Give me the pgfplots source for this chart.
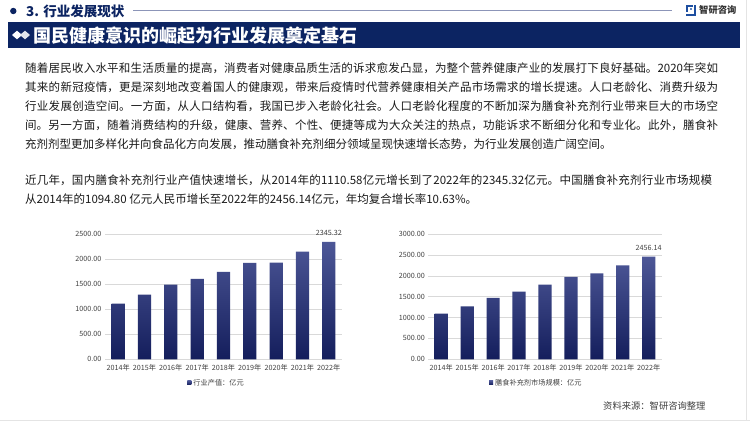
\documentclass[border=0pt]{standalone}
\usepackage{fontspec}
\setmainfont{Noto Sans CJK SC}
\usepackage{pgfplots}
\pgfplotsset{compat=1.18}
\definecolor{navy}{HTML}{0C2462}
\definecolor{bartop}{HTML}{4D5797}
\definecolor{barbot}{HTML}{141E5C}
\definecolor{ticktxt}{HTML}{404040}
\definecolor{bodytxt}{HTML}{1A1A1A}
\definecolor{gridc}{HTML}{D9D9D9}
\definecolor{hline}{HTML}{8C95B8}
\definecolor{logoblue}{HTML}{1E4FA0}
\definecolor{frame}{HTML}{E4E4E4}
\XeTeXlinebreaklocale "zh"
\XeTeXlinebreakskip=0pt plus 1pt minus 0.3pt

\pgfplotsset{
  barax/.style={
    scale only axis, anchor=south west, clip=false,
    enlargelimits=false,
    xmin=-0.5, xmax=8.5, xtick={0,...,8},
    xticklabels={2014年,2015年,2016年,2017年,2018年,2019年,2020年,2021年,2022年},
    ymin=0,
    axis x line*=bottom, axis y line*=left,
    y axis line style={draw=none},
    x axis line style={draw=gridc, line width=0.6pt},
    major tick length=0pt,
    ymajorgrids, grid style={draw=gridc, line width=0.5pt},
    tick label style={font=\fontsize{7.2}{8}\selectfont, text=ticktxt},
    xticklabel style={yshift=-1.5pt},
    /pgf/number format/assume math mode=true,
    yticklabel style={/pgf/number format/fixed, /pgf/number format/fixed zerofill, /pgf/number format/precision=2, /pgf/number format/1000 sep={}},
    legend style={draw=none, fill=none, font=\fontsize{7.2}{8}\selectfont, text=ticktxt, anchor=center},
    legend image code/.code={\fill[barbot!75!bartop] (0pt,-2pt) rectangle (4pt,2pt);},
    bar shift=0pt,
  },
  barst/.style={ybar, bar width=13.2pt, draw=none, top color=bartop, bottom color=barbot},
  lblst/.style={ybar, draw=none, fill=none, forget plot, point meta=explicit symbolic,
    nodes near coords, nodes near coords style={font=\fontsize{7.2}{8}\selectfont, text=ticktxt, anchor=south, yshift=2.5pt}},
}

\begin{document}
\begin{tikzpicture}
\useasboundingbox (0,0) rectangle (750pt,-421pt);
\fill[white] (0,0) rectangle (750pt,-421pt);
% frame
\draw[frame, line width=1pt] (746.5pt,0pt) -- (746.5pt,-421pt);
\draw[frame, line width=1pt] (0pt,-420pt) -- (750pt,-420pt);
% header
\fill[navy] (13.3pt,-11pt) circle (3.2pt);
\node[anchor=west, inner sep=0pt, text=navy, font=\fontsize{13.5}{14}\selectfont\bfseries] at (26pt,-11pt) {3. 行业发展现状};
\draw[hline, line width=0.6pt] (133pt,-10pt) -- (672pt,-10pt);
% logo
\fill[logoblue] (686pt,-4.5pt) rectangle (692.5pt,-6.5pt);
\fill[logoblue] (686pt,-4.5pt) rectangle (688pt,-12pt);
\fill[logoblue!70!white] (689.5pt,-8pt) rectangle (691.5pt,-10pt);
\fill[logoblue] (694pt,-4.5pt) rectangle (696pt,-15.5pt);
\fill[logoblue] (686pt,-13.5pt) rectangle (696pt,-15.5pt);
\node[anchor=west, inner sep=0pt, text=ticktxt!80!black, font=\fontsize{9.3}{10}\selectfont\bfseries] at (699pt,-10pt) {智研咨询};
% banner
\fill[navy] (8pt,-22.3pt) rectangle (740pt,-48.3pt);
\fill[white] (12pt,-35pt) -- (17pt,-30.7pt) -- (22pt,-35pt) -- (17pt,-39.3pt) -- cycle;
\fill[white!88!navy] (20pt,-35pt) -- (25pt,-30.7pt) -- (30pt,-35pt) -- (25pt,-39.3pt) -- cycle;
\node[anchor=west, inner sep=0pt, text=white, font=\fontsize{18}{18}\selectfont\bfseries] at (33pt,-35.3pt) {国民健康意识的崛起为行业发展奠定基石};
% paragraphs
\node[anchor=north west, inner sep=0pt, text width=693pt, align=justify, text=bodytxt, font=\fontsize{11.5}{19}\selectfont] at (25pt,-63pt) {随着居民收入水平和生活质量的提高，消费者对健康品质生活的诉求愈发凸显，为整个营养健康产业的发展打下良好基础。2020年突如\linebreak 其来的新冠疫情，更是深刻地改变着国人的健康观，带来后疫情时代营养健康相关产品市场需求的增长提速。人口老龄化、消费升级为\linebreak 行业发展创造空间。一方面，从人口结构看，我国已步入老龄化社会。人口老龄化程度的不断加深为膳食补充剂行业带来巨大的市场空\linebreak 间。另一方面，随着消费结构的升级，健康、营养、个性、便捷等成为大众关注的热点，功能诉求不断细分化和专业化。此外，膳食补\linebreak 充剂剂型更加多样化并向食品化方向发展，推动膳食补充剂细分领域呈现快速增长态势，为行业发展创造广阔空间。};
\node[anchor=north west, inner sep=0pt, text width=687pt, align=justify, text=bodytxt, font=\fontsize{11.5}{18.5}\selectfont] at (25pt,-175pt) {近几年，国内膳食补充剂行业产值快速增长，从2014年的1110.58亿元增长到了2022年的2345.32亿元。中国膳食补充剂行业市场规模\linebreak 从2014年的1094.80 亿元人民币增长至2022年的2456.14亿元，年均复合增长率10.63\%。};
% left chart
\begin{axis}[barax, at={(105pt,-359.3pt)}, width=237pt, height=125.3pt,
  ymax=2500, ytick={0,500,...,2500},
  legend style={at={(0.471,-0.187)}}]
\addplot[barst] coordinates {(0,1110.58) (1,1290) (2,1490) (3,1605) (4,1745) (5,1925) (6,1930) (7,2150) (8,2345.32)};
\addlegendentry{行业产值：亿元}
\addplot[lblst] coordinates {(8,2345.32) [2345.32]};
\end{axis}
% right chart
\begin{axis}[barax, at={(428.3pt,-359.3pt)}, width=233.4pt, height=125.3pt,
  ymax=3000, ytick={0,500,...,3000},
  legend style={at={(0.463,-0.187)}}]
\addplot[barst] coordinates {(0,1094.80) (1,1270) (2,1470) (3,1620) (4,1790) (5,1972) (6,2058) (7,2250) (8,2456.14)};
\addlegendentry{膳食补充剂市场规模：亿元}
\addplot[lblst] coordinates {(8,2456.14) [2456.14]};
\end{axis}
% source
\node[anchor=west, inner sep=0pt, text=ticktxt, font=\fontsize{9.3}{10}\selectfont] at (603pt,-405.7pt) {资料来源：智研咨询整理};
\end{tikzpicture}
\end{document}
